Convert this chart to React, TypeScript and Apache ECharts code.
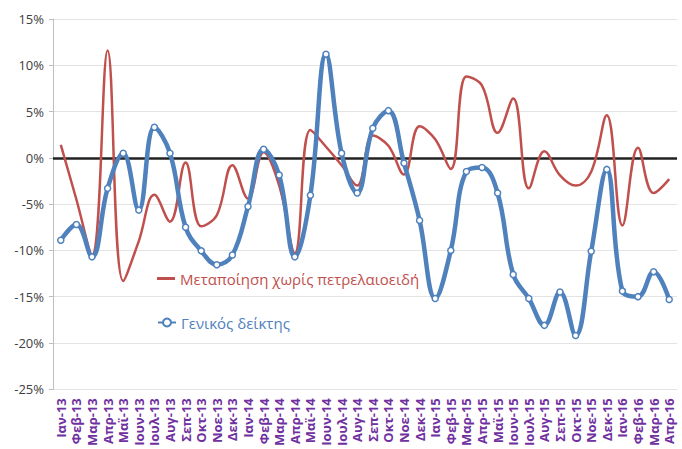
import React, { useEffect, useRef } from 'react';
import * as echarts from 'echarts';

const categories = [
  'Ιαν-13', 'Φεβ-13', 'Μαρ-13', 'Απρ-13', 'Μαϊ-13', 'Ιουν-13', 'Ιουλ-13', 'Αυγ-13', 'Σεπ-13', 'Οκτ-13', 'Νοε-13', 'Δεκ-13',
  'Ιαν-14', 'Φεβ-14', 'Μαρ-14', 'Απρ-14', 'Μαϊ-14', 'Ιουν-14', 'Ιουλ-14', 'Αυγ-14', 'Σεπ-14', 'Οκτ-14', 'Νοε-14', 'Δεκ-14',
  'Ιαν-15', 'Φεβ-15', 'Μαρ-15', 'Απρ-15', 'Μαϊ-15', 'Ιουν-15', 'Ιουλ-15', 'Αυγ-15', 'Σεπ-15', 'Οκτ-15', 'Νοε-15', 'Δεκ-15',
  'Ιαν-16', 'Φεβ-16', 'Μαρ-16', 'Απρ-16',
];

const manufacturingExOil = [
  1.4, -4.5, -10.5, 11.6, -13.3, -9.0, -4.0, -6.9, -0.5, -7.4, -6.2, -0.8,
  -4.4, 0.6, -3.0, -10.3, 3.0, 1.2, -0.8, -3.0, 2.4, 1.3, -1.8, 3.4,
  2.0, -1.2, 8.8, 7.8, 2.7, 6.4, -3.3, 0.7, -1.9, -3.0, -1.5, 4.6,
  -7.3, 1.1, -3.8, -2.3,
];

const generalIndex = [
  -8.9, -7.2, -10.7, -3.3, 0.5, -5.65, 3.3, 0.5, -7.5, -10.05, -11.55, -10.5,
  -5.26, 0.93, -1.86, -10.7, -4.04, 11.2, 0.5, -3.8, 3.2, 5.1, -0.57, -6.76,
  -15.2, -10.0, -1.47, -1.04, -3.8, -12.6, -15.2, -18.1, -14.5, -19.2, -10.1, -1.25,
  -14.4, -15.0, -12.3, -15.3,
];

const yMin = -25;
const yMax = 15;
const yStep = 5;

const seriesNames = ['Μεταποίηση χωρίς πετρελαιοειδή', 'Γενικός δείκτης'];

export default function App() {
  const ref = useRef<HTMLDivElement>(null);
  useEffect(() => {
    if (!ref.current) return;
    const chart = echarts.init(ref.current, undefined, { renderer: 'svg' });
    const font = 'Open Sans';
    chart.setOption({
      animation: false,
      grid: { left: 53, right: 5, top: 19, bottom: 57, containLabel: false },
      xAxis: {
        type: 'category',
        data: categories,
        boundaryGap: true,
        axisLine: { show: true, lineStyle: { color: '#d9d9d9' } },
        axisTick: { show: false },
        axisLabel: {
          rotate: 90,
          interval: 0,
          color: '#7030A0',
          fontWeight: 'bold',
          fontSize: 13,
          fontFamily: font,
          margin: 9,
        },
      },
      yAxis: {
        type: 'value',
        min: yMin,
        max: yMax,
        interval: yStep,
        axisLine: { show: true, lineStyle: { color: '#bfbfbf' } },
        axisTick: { show: true, length: 4, lineStyle: { color: '#bfbfbf' } },
        axisLabel: {
          formatter: '{value}%',
          color: '#404040',
          fontSize: 13,
          fontFamily: font,
          margin: 9,
        },
        splitLine: { show: true, lineStyle: { color: '#e3e3e3', width: 1 } },
      },
      legend: [
        {
          data: [{ name: seriesNames[0], icon: 'rect' }],
          left: 157,
          top: 271,
          padding: 0,
          itemWidth: 18,
          itemHeight: 3,
          textStyle: { color: '#C0504D', fontSize: 15, fontFamily: font },
        },
        {
          data: [seriesNames[1]],
          left: 157,
          top: 315,
          padding: 0,
          itemWidth: 18,
          itemHeight: 10,
          textStyle: { color: '#4F81BD', fontSize: 15, fontFamily: font },
        },
      ],
      series: [
        {
          name: seriesNames[0],
          type: 'line',
          data: manufacturingExOil,
          smooth: 0.4,
          symbol: 'none',
          lineStyle: { color: '#C0504D', width: 2.5 },
          itemStyle: { color: '#C0504D' },
          z: 3,
          markLine: {
            silent: true,
            symbol: 'none',
            label: { show: false },
            lineStyle: { color: '#222222', width: 2.5, type: 'solid' },
            data: [{ yAxis: 0 }],
            z: 1,
          },
        },
        {
          name: seriesNames[1],
          type: 'line',
          data: generalIndex,
          smooth: 0.4,
          symbol: 'circle',
          symbolSize: 6,
          showSymbol: true,
          lineStyle: { color: '#4F81BD', width: 4.5 },
          itemStyle: { color: '#ffffff', borderColor: '#4F81BD', borderWidth: 1.5 },
          z: 4,
        },
      ],
    });
    return () => chart.dispose();
  }, []);
  return (
    <div
      ref={ref}
      style={{ position: 'absolute', left: 0, top: 0, width: 682, height: 449, background: '#ffffff' }}
    />
  );
}
